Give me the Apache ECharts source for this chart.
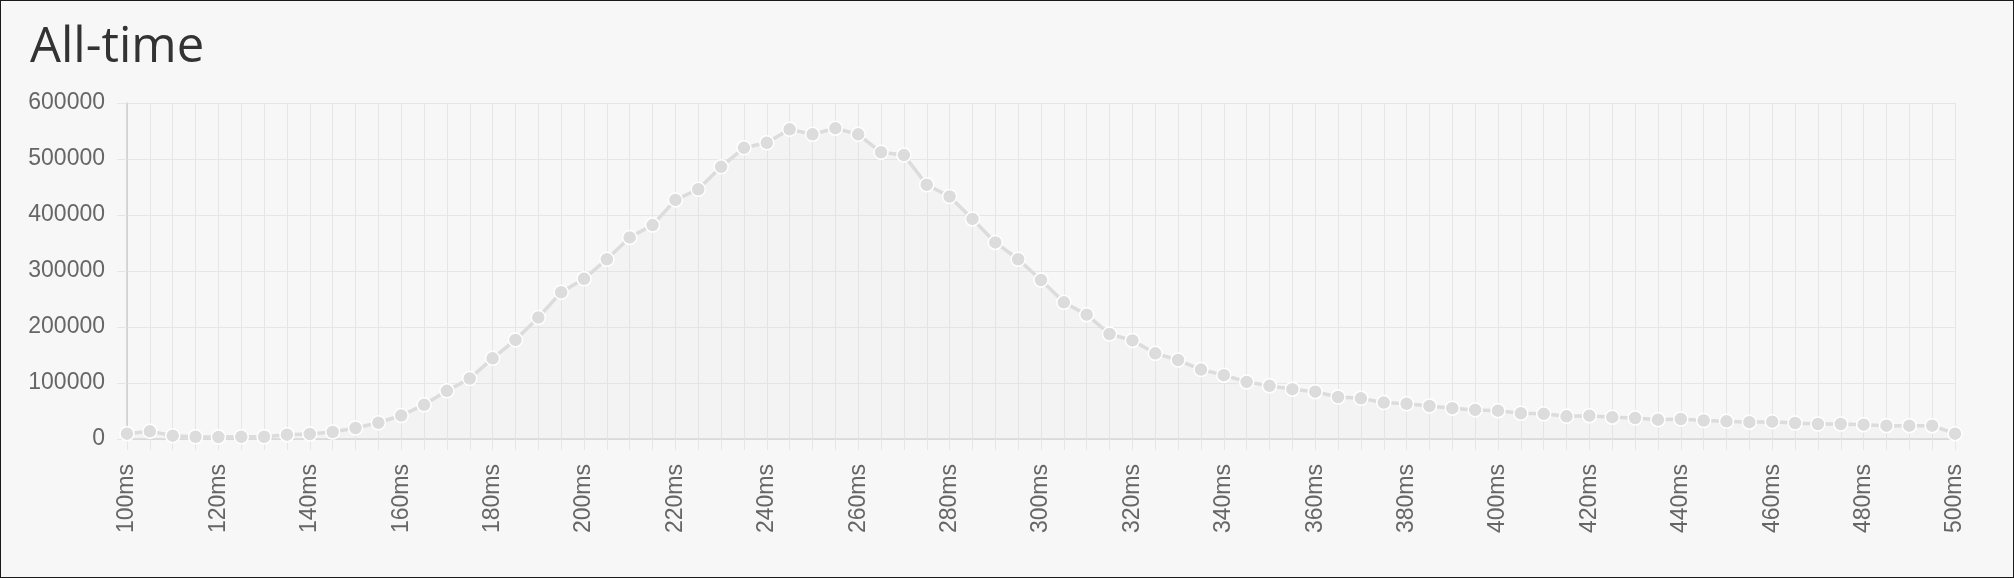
<!DOCTYPE html>
<html>
<head>
<meta charset="utf-8">
<script src="https://cdn.jsdelivr.net/npm/echarts@6/dist/echarts.min.js"></script>
<style>
  html, body { margin: 0; padding: 0; background: #1a1a1a; }
  #chart {
    position: absolute;
    left: 1px;
    top: 1px;
    width: 2012px;
    height: 576px;
    background: #f7f7f7;
  }
</style>
</head>
<body>
<div id="chart"></div>
<script>
// latency buckets (ms)
const latencies = [
  100, 105, 110, 115, 120, 125, 130, 135, 140, 145,
  150, 155, 160, 165, 170, 175, 180, 185, 190, 195,
  200, 205, 210, 215, 220, 225, 230, 235, 240, 245,
  250, 255, 260, 265, 270, 275, 280, 285, 290, 295,
  300, 305, 310, 315, 320, 325, 330, 335, 340, 345,
  350, 355, 360, 365, 370, 375, 380, 385, 390, 395,
  400, 405, 410, 415, 420, 425, 430, 435, 440, 445,
  450, 455, 460, 465, 470, 475, 480, 485, 490, 495,
  500
];
// request counts per bucket
const counts = [
  9500, 13700, 6000, 4000, 3600, 4000, 4000, 7700, 9000, 12500,
  19600, 29000, 42000, 61000, 86000, 108000, 144000, 177000, 217000, 262000,
  286000, 321000, 360000, 382000, 427000, 446000, 486000, 520000, 529000, 553000,
  544000, 555000, 544000, 512000, 507000, 454000, 433000, 393000, 351000, 321000,
  284000, 244000, 222000, 187500, 176000, 153000, 141000, 124000, 114000, 102000,
  95000, 89000, 84500, 75000, 72600, 65000, 63000, 59000, 55000, 52000,
  50600, 46000, 45000, 40500, 41700, 39000, 37500, 34500, 35700, 33000,
  31500, 30000, 31000, 28600, 26800, 26800, 25600, 23800, 23800, 23800,
  9500
];
const yTicks = [0, 100000, 200000, 300000, 400000, 500000, 600000];

const gridColor = "#e6e6e6";
const labelFont = "'Liberation Sans', Arial, sans-serif";

const chart = echarts.init(document.getElementById("chart"));
chart.setOption({
  animation: false,
  title: {
    text: "All-time",
    left: 24,
    top: 18,
    textStyle: {
      fontFamily: "'Open Sans', sans-serif",
      fontSize: 49,
      fontWeight: "normal",
      color: "#333",
    },
  },
  grid: { left: 126, right: 58, top: 102, bottom: 138 },
  xAxis: {
    type: "category",
    boundaryGap: false,
    data: latencies.map((v) => v + "ms"),
    axisLine: { lineStyle: { color: "#d6d6d6", width: 1.5 } },
    axisTick: {
      show: true,
      interval: 0,
      length: 11,
      lineStyle: { color: gridColor },
    },
    axisLabel: {
      interval: 3,
      rotate: 90,
      margin: 25,
      fontSize: 23,
      fontFamily: labelFont,
      color: "#666",
    },
    splitLine: { show: true, interval: 0, lineStyle: { color: gridColor } },
  },
  yAxis: {
    type: "value",
    min: yTicks[0],
    max: yTicks[yTicks.length - 1],
    interval: yTicks[1] - yTicks[0],
    axisLine: { show: true, lineStyle: { color: "#cccccc", width: 1.5 } },
    axisTick: { show: true, length: 10, lineStyle: { color: gridColor } },
    axisLabel: {
      margin: 22,
      fontSize: 23,
      fontFamily: labelFont,
      color: "#666",
      formatter: (v) => String(v),
    },
    splitLine: { show: true, lineStyle: { color: gridColor } },
  },
  series: [
    {
      type: "line",
      data: counts,
      symbol: "circle",
      symbolSize: 14,
      showAllSymbol: true,
      itemStyle: { color: "#dcdcdc", borderColor: "#fff", borderWidth: 1.5 },
      lineStyle: { color: "#dcdcdc", width: 3.5 },
      areaStyle: { color: "rgba(220,220,220,0.2)" },
    },
  ],
});
</script>
</body>
</html>
